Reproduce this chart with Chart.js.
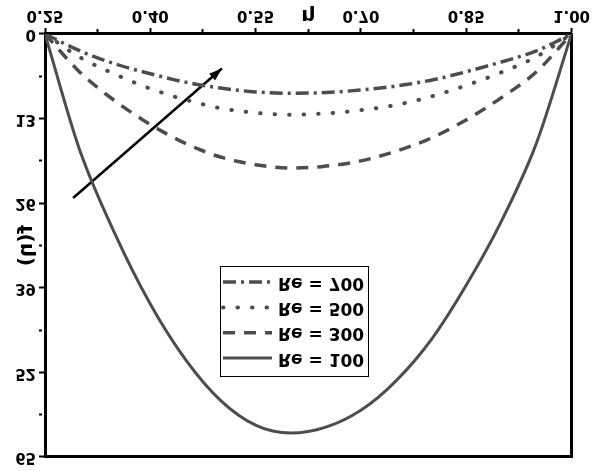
<!DOCTYPE html>
<html>
<head>
<meta charset="utf-8">
<script src="https://cdn.jsdelivr.net/npm/chart.js@4.4.1/dist/chart.umd.min.js"></script>
<style>
  html, body { margin: 0; padding: 0; background: #fff; }
  /* the reference picture is mirrored top to bottom */
  #plot { display: block; transform: scaleY(-1); }
</style>
</head>
<body>
<canvas id="plot" width="594" height="471"></canvas>
<script>
// values
const eta = [0.25, 0.30, 0.35, 0.40, 0.45, 0.50, 0.55, 0.60, 0.65, 0.70, 0.75, 0.80, 0.85, 0.90, 0.95, 1.00];
const re100 = [0, 18.0, 30.8, 41.5, 50.0, 56.3, 60.1, 61.3, 60.4, 57.8, 53.3, 47.0, 38.6, 28.8, 16.8, 0];
const re300 = [0, 5.9, 10.3, 13.9, 16.8, 18.9, 20.1, 20.6, 20.3, 19.5, 18.0, 16.0, 13.2, 9.8, 5.8, 0];
const re500 = [0, 3.6, 6.2, 8.4, 10.1, 11.4, 12.1, 12.4, 12.2, 11.7, 10.9, 9.6, 7.9, 5.9, 3.5, 0];
const re700 = [0, 2.6, 4.6, 6.1, 7.4, 8.3, 8.9, 9.1, 9.0, 8.6, 8.0, 7.1, 5.8, 4.3, 2.6, 0];
const seriesLabels = ['Re = 100', 'Re = 300', 'Re = 500', 'Re = 700'];
const arrowEta = [0.29, 0.502];
const arrowF = [25.2, 5.3];
const xTickLabels = ['0.25', '0.40', '0.55', '0.70', '0.85', '1.00'];
const yTickLabels = ['0', '13', '26', '39', '52', '65'];

const grey = '#4d4d4d';
const pts = ys => eta.map((e, i) => ({x: e, y: ys[i]}));

Chart.defaults.font.family = '"DejaVu Sans", sans-serif';
Chart.defaults.font.weight = 'bold';
Chart.defaults.color = '#000';

const boxLegend = {
    id: 'boxLegend',
    afterDraw(chart) {
	const ctx = chart.ctx;
	const sets = chart.data.datasets.filter(d => d.label);
	const left = 220, top = 94, w = 148, h = 110;
	ctx.save();
	ctx.fillStyle = '#fff';
	ctx.fillRect(left, top, w, h);
	ctx.strokeStyle = '#000';
	ctx.lineWidth = 1;
	ctx.strokeRect(left + 0.5, top + 0.5, w, h);
	sets.forEach((d, i) => {
	    const y = top + 19 + i * 25.3;
	    ctx.beginPath();
	    ctx.setLineDash(d.borderDash || []);
	    ctx.lineCap = d.borderCapStyle || 'butt';
	    ctx.lineWidth = d.borderWidth;
	    ctx.strokeStyle = d.borderColor;
	    ctx.moveTo(left + 3, y);
	    ctx.lineTo(left + 52, y);
	    ctx.stroke();
	    ctx.setLineDash([]);
	    ctx.fillStyle = '#000';
	    ctx.font = 'bold 17px "DejaVu Sans"';
	    ctx.textBaseline = 'middle';
	    ctx.fillText(d.label, left + 58, y);
	});
	ctx.restore();
    }
};

const arrowHead = {
    id: 'arrowHead',
    afterDatasetsDraw(chart) {
	const {ctx, scales: {x, y}} = chart;
	const x0 = x.getPixelForValue(arrowEta[0]), y0 = y.getPixelForValue(arrowF[0]);
	const x1 = x.getPixelForValue(arrowEta[1]), y1 = y.getPixelForValue(arrowF[1]);
	const a = Math.atan2(y1 - y0, x1 - x0);
	const len = 13, half = 4.5;
	const bx = x1 - len * Math.cos(a), by = y1 - len * Math.sin(a);
	ctx.save();
	ctx.fillStyle = '#000';
	ctx.beginPath();
	ctx.moveTo(x1, y1);
	ctx.lineTo(bx + half * Math.sin(a), by - half * Math.cos(a));
	ctx.lineTo(bx - half * Math.sin(a), by + half * Math.cos(a));
	ctx.closePath();
	ctx.fill();
	ctx.restore();
    }
};

const tickGrid = {
    drawOnChartArea: false,
    drawTicks: true,
    tickLength: 6,
    tickColor: '#000',
    tickWidth: 2,
    tickBorderDash: c => (c.index % 2 ? [3, 20] : [])
};
const frame = {
    display: true,
    ticks: {display: false},
    grid: {display: false, drawTicks: false},
    border: {display: true, color: '#000', width: 3}
};

new Chart(document.getElementById('plot'), {
    type: 'line',
    data: {
	datasets: [
	    {label: seriesLabels[0], data: pts(re100), borderColor: grey, borderWidth: 3, borderDash: []},
	    {label: seriesLabels[1], data: pts(re300), borderColor: grey, borderWidth: 3.5, borderDash: [12, 9]},
	    {label: seriesLabels[2], data: pts(re500), borderColor: grey, borderWidth: 4, borderDash: [0.5, 14], borderCapStyle: 'round'},
	    {label: seriesLabels[3], data: pts(re700), borderColor: grey, borderWidth: 3.5, borderDash: [13, 5, 3, 5]},
	    {label: '', data: arrowEta.map((e, i) => ({x: e, y: arrowF[i]})), borderColor: '#000', borderWidth: 2.5, tension: 0}
	].map(d => Object.assign({xAxisID: 'x', yAxisID: 'y', pointRadius: 0, cubicInterpolationMode: 'monotone', fill: false}, d))
    },
    options: {
	responsive: false,
	animation: false,
	layout: {padding: {top: 14, right: 20, left: 0, bottom: 0}},
	plugins: {legend: {display: false}, tooltip: {enabled: false}},
	scales: {
	    x: {
		type: 'linear', position: 'bottom', min: 0.25, max: 1.0,
		ticks: {stepSize: 0.075, autoSkip: false, maxRotation: 0, padding: 4,
			font: {size: 15, weight: 'bold'},
			callback: (v, i) => (i % 2 ? '' : xTickLabels[i / 2])},
		grid: tickGrid,
		border: {color: '#000', width: 3},
		title: {display: true, text: 'η', font: {size: 20, weight: 'bold'}, padding: {top: 0, bottom: 3}},
		afterFit: s => { s.height = 34; }
	    },
	    y: {
		type: 'linear', position: 'left', min: 0, max: 65,
		ticks: {stepSize: 6.5, autoSkip: false, padding: 3,
			font: {size: 15, weight: 'bold'},
			callback: (v, i) => (i % 2 ? '' : yTickLabels[i / 2])},
		grid: tickGrid,
		border: {color: '#000', width: 3},
		title: {display: true, text: 'f(η)', font: {size: 20, weight: 'bold'}, padding: {top: 15, bottom: 0}},
		afterFit: s => { s.width = 45; }
	    },
	    x2: Object.assign({type: 'linear', position: 'top', min: 0.25, max: 1.0, afterFit: s => { s.height = 0; }}, frame),
	    y2: Object.assign({type: 'linear', position: 'right', min: 0, max: 65, afterFit: s => { s.width = 0; }}, frame)
	}
    },
    plugins: [arrowHead, boxLegend]
});
</script>
</body>
</html>
